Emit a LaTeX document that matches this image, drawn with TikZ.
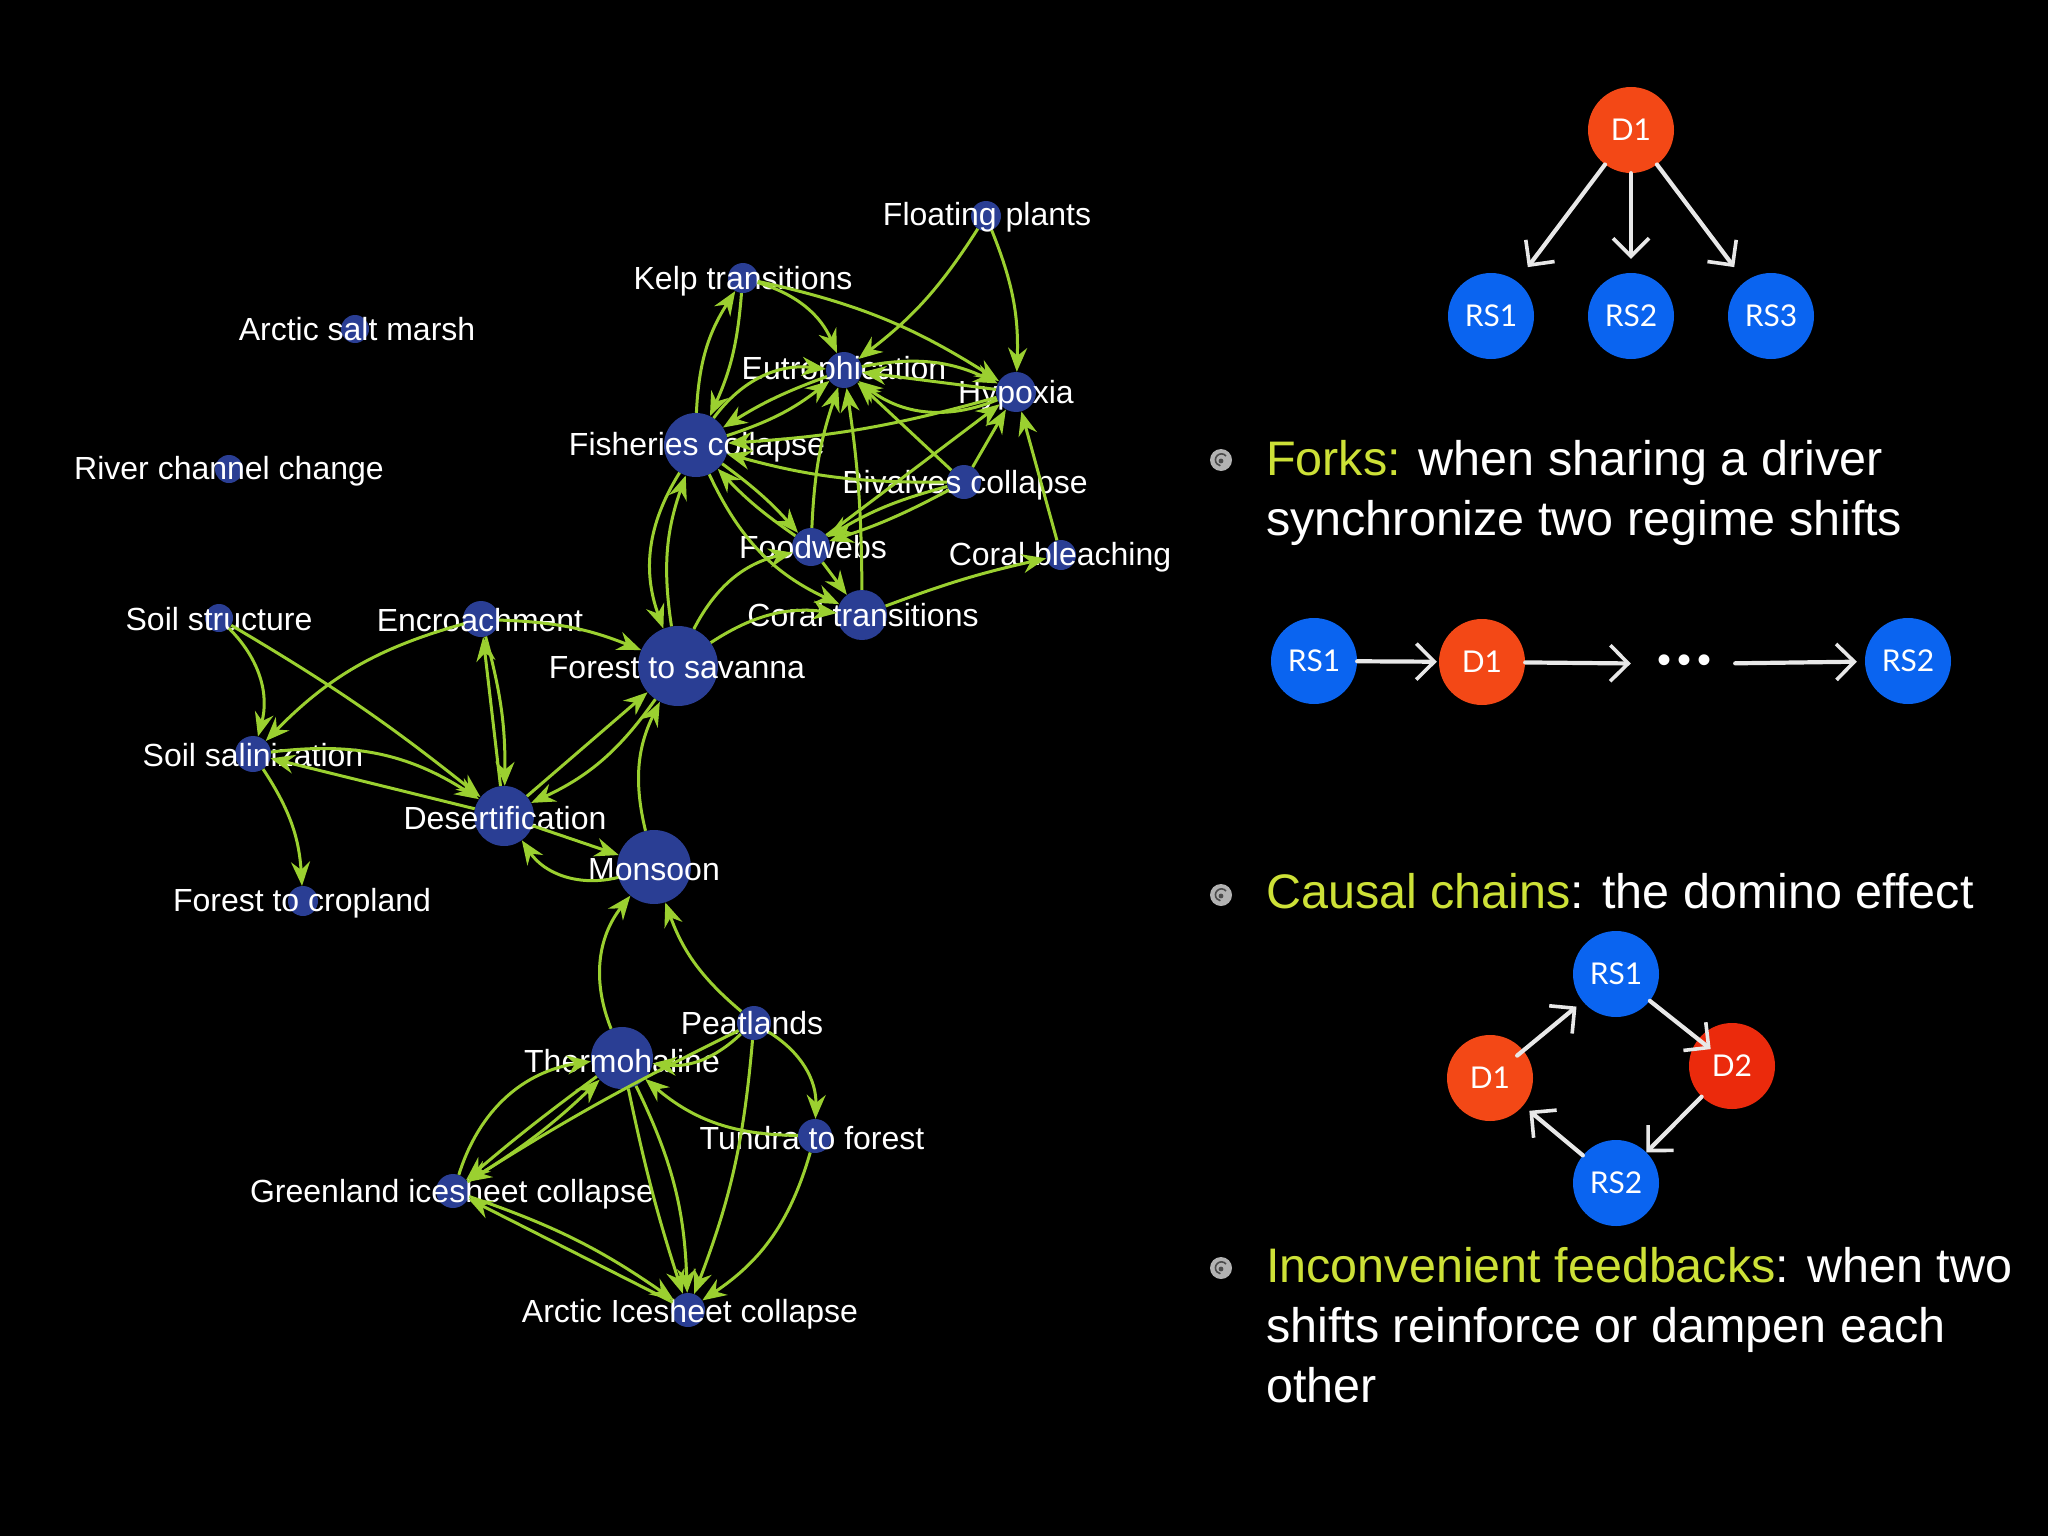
\documentclass[tikz,border=0pt]{standalone}
\usepackage{fontspec}
\setmainfont{Liberation Sans}
\newfontfamily\gillfont{Lato}
\usetikzlibrary{arrows.meta}
\definecolor{nodeblue}{RGB}{42,62,148}
\definecolor{linkgreen}{RGB}{155,208,48}
\definecolor{accent}{RGB}{205,225,55}
\definecolor{rsblue}{RGB}{10,100,240}
\definecolor{dred}{RGB}{243,72,22}
\definecolor{dredb}{RGB}{235,42,12}
\definecolor{chalk}{RGB}{232,232,232}
\begin{document}
\begin{tikzpicture}[x=1pt,y=1pt,
  nd/.style={circle,fill=nodeblue,inner sep=0pt,minimum size=#1},
  lbl/.style={text=white,inner sep=0pt,font=\fontsize{32}{36}\selectfont,anchor=base},
  lk/.style={draw=linkgreen,line width=3pt,-{Stealth[length=24pt,width=19pt,inset=8pt]}},
  rs/.style={circle,fill=rsblue,inner sep=0pt,minimum size=86pt,text=white,font=\gillfont\fontsize{30}{30}\selectfont},
  dr/.style={rs,fill=dred},
  sk/.style={draw=chalk,line width=4.2pt,line cap=round,-{Straight Barb[length=18pt,width=36pt,line width=3.6pt]}},
  big/.style={text=white,inner sep=0pt,anchor=base west,font=\fontsize{48.5}{60}\selectfont},
  bul/.style={fill=black!30!white},
]
\useasboundingbox (0,0) rectangle (2048,-1536);
\fill[black] (0,0) rectangle (2048,-1536);

% ---------------- network nodes ----------------
\node[nd=30pt] (fp)   at (986,-216) {};
\node[nd=30pt] (kelp) at (743,-278) {};
\node[nd=28pt] (asm)  at (355,-329) {};
\node[nd=36pt] (eut)  at (844,-370) {};
\node[nd=40pt] (hyp)  at (1016,-392) {};
\node[nd=64pt] (fis)  at (696,-445) {};
\node[nd=28pt] (rcc)  at (229,-469) {};
\node[nd=34pt] (biv)  at (964,-482) {};
\node[nd=38pt] (food) at (811,-547) {};
\node[nd=30pt] (cb)   at (1061,-555) {};
\node[nd=50pt] (ct)   at (862,-615) {};
\node[nd=28pt] (ss)   at (219,-618) {};
\node[nd=36pt] (enc)  at (481,-619) {};
\node[nd=80pt] (fts)  at (678,-666) {};
\node[nd=36pt] (sal)  at (253,-754) {};
\node[nd=60pt] (des)  at (504,-816) {};
\node[nd=74pt] (mon)  at (654,-867) {};
\node[nd=30pt] (ftc)  at (303,-901) {};
\node[nd=34pt] (pea)  at (754,-1023) {};
\node[nd=62pt] (th)   at (622,-1058) {};
\node[nd=34pt] (tun)  at (815,-1136) {};
\node[nd=34pt] (gre)  at (453,-1191) {};
\node[nd=34pt] (arc)  at (688,-1310) {};

% ---------------- labels ----------------
\node[lbl] (fp-l)   at (987,-225)  {Floating plants};
\node[lbl] (kelp-l) at (743,-289)  {Kelp transitions};
\node[lbl] (asm-l)  at (357,-340)  {Arctic salt marsh};
\node[lbl] (eut-l)  at (844,-379)  {Eutrophication};
\node[lbl] (hyp-l)  at (1016,-403) {Hypoxia};
\node[lbl] (fis-l)  at (697,-455)  {Fisheries collapse};
\node[lbl] (rcc-l)  at (229,-479)  {River channel change};
\node[lbl] (biv-l)  at (965,-493)  {Bivalves collapse};
\node[lbl] (food-l) at (813,-558)  {Foodwebs};
\node[lbl] (cb-l)   at (1060,-565) {Coral bleaching};
\node[lbl] (ct-l)   at (863,-626)  {Coral transitions};
\node[lbl] (ss-l)   at (219,-630)  {Soil structure};
\node[lbl] (enc-l)  at (480,-631)  {Encroachment};
\node[lbl] (fts-l)  at (677,-678)  {Forest to savanna};
\node[lbl] (sal-l)  at (253,-766)  {Soil salinization};
\node[lbl] (des-l)  at (505,-829)  {Desertification};
\node[lbl] (mon-l)  at (654,-880)  {Monsoon};
\node[lbl] (ftc-l)  at (302,-911)  {Forest to cropland};
\node[lbl] (pea-l)  at (752,-1034) {Peatlands};
\node[lbl] (th-l)   at (622,-1072) {Thermohaline};
\node[lbl] (tun-l)  at (812,-1149) {Tundra to forest};
\node[lbl] (gre-l)  at (452,-1202) {Greenland icesheet collapse};
\node[lbl] (arc-l)  at (690,-1322) {Arctic Icesheet collapse};

% ---------------- links: marine cluster ----------------
\draw[lk] (fp) to[bend left=10] (eut);
\draw[lk] (fp) to[bend left=12] (hyp);
\draw[lk] (fis) to[bend left=15] (kelp);
\draw[lk] (kelp) to[bend left=10] (fis);
\draw[lk] (kelp) to[bend left=25] (eut);
\draw[lk] (kelp) to[bend left=10] (hyp);
\draw[lk] (eut) to[bend left=18] (hyp);
\draw[lk] (hyp) to (eut);
\draw[lk] (hyp) to[bend left=30] (eut);
\draw[lk] (fis) to[bend left=30] (eut);
\draw[lk] (eut) to[bend right=6] (fis);
\draw[lk] (fis) to[bend right=10] (eut);
\draw[lk] (hyp) to[bend left=6] (fis);
\draw[lk] (biv) to[bend left=8] (fis);
\draw[lk] (fis) to[bend left=6] (food);
\draw[lk] (food) to[bend left=6] (fis);
\draw[lk] (fis) to[bend right=20] (ct);
\draw[lk] (fts) to[bend left=20] (ct);
\draw[lk] (fts) to[bend left=25] (food);
\draw[lk] (ct) to[bend left=4] (cb);
\draw[lk] (ct) to[bend right=4] (eut);
\draw[lk] (food) to (ct);
\draw[lk] (food) to[bend left=8] (eut);
\draw[lk] (food) to (hyp);
\draw[lk] (biv) to[bend left=5] (food);
\draw[lk] (biv) to[bend right=8] (food);
\draw[lk] (biv) to (eut);
\draw[lk] (biv) to (hyp);
\draw[lk] (cb) to (hyp);
\draw[lk] (fts) to[bend left=14] (fis);
\draw[lk] (fis) to[bend right=26] (fts);
\draw[lk] (enc) to[bend left=10] (fts);

% ---------------- links: land cluster ----------------
\draw[lk] (ss) to[bend left=30] (sal);
\draw[lk] (ss) to[bend left=4] (des);
\draw[lk] (enc) to[bend right=15] (sal);
\draw[lk] (sal) to[bend left=20] (des);
\draw[lk] (des) to (sal);
\draw[lk] (sal) to[bend left=15] (ftc);
\draw[lk] (des) to (enc);
\draw[lk] (enc) to[bend left=8] (des);
\draw[lk] (des) to (fts);
\draw[lk] (fts) to[bend left=15] (des);
\draw[lk] (des) to (mon);
\draw[lk] (mon) to[bend left=35] (des);
\draw[lk] (mon) to[bend left=20] (fts);

% ---------------- links: climate cluster ----------------
\draw[lk] (th) to[bend left=30] (mon);
\draw[lk] (pea) to[bend left=15] (mon);
\draw[lk] (pea) to[bend left=30] (tun);
\draw[lk] (pea) to[bend left=25] (th);
\draw[lk] (pea) to[bend right=3] (gre);
\draw[lk] (pea) to[bend left=8] (arc);
\draw[lk] (tun) to[bend left=20] (th);
\draw[lk] (tun) to[bend left=20] (arc);
\draw[lk] (gre) to[bend left=32] (th);
\draw[lk] (gre) to[bend right=6] (th);
\draw[lk] (th) to[bend right=2] (gre);
\draw[lk] (th) to[bend right=3] (arc);
\draw[lk] (th) to[bend left=12] (arc);
\draw[lk] (gre) to[bend left=8] (arc);
\draw[lk] (arc) to (gre);

% ---------------- fork diagram ----------------
\node[dr] (fD1) at (1631,-130) {D1};
\node[rs] (fR1) at (1491,-316) {RS1};
\node[rs] (fR2) at (1631,-316) {RS2};
\node[rs] (fR3) at (1771,-316) {RS3};
\draw[sk, shorten >=18pt] (fD1) -- (fR1);
\draw[sk, shorten >=14pt] (fD1) -- (fR2);
\draw[sk, shorten >=18pt] (fD1) -- (fR3);

% ---------------- chain diagram ----------------
\node[rs] (cR1) at (1314,-661) {RS1};
\node[dr] (cD1) at (1482,-662) {D1};
\node[text=white, inner sep=0pt, font=\fontsize{40}{40}\selectfont] (dots) at (1684,-664) {•\hspace{6pt}•\hspace{6pt}•};
\node[rs] (cR2) at (1908,-661) {RS2};
\draw[sk, shorten >=2pt] (cR1) -- (cD1);
\draw[sk, shorten >=26pt] (cD1) -- (dots);
\draw[sk, shorten <=24pt, shorten >=8pt] (dots) -- (cR2);

% ---------------- feedback diagram ----------------
\node[rs] (bR1) at (1616,-974) {RS1};
\node[dr] (bD1) at (1490,-1078) {D1};
\node[dr, fill=dredb] (bD2) at (1732,-1066) {D2};
\node[rs] (bR2) at (1616,-1183) {RS2};
\draw[sk, shorten <=-8pt, shorten >=8pt] (bD1) -- (bR1);
\draw[sk, shorten >=-16pt] (bR1) -- (bD2);
\draw[sk] (bD2) -- (bR2);
\draw[sk, shorten >=8pt] (bR2) -- (bD1);

% ---------------- bullets ----------------
\foreach \yy in {460,895,1268}{
  \fill[bul] (1221,-\yy) circle (11);
  \draw[black!70,line width=1.6pt] (1226,-\yy+4) arc[start angle=40,end angle=260,radius=6];
  \fill[black!70] (1221,-\yy-1) circle (2.4);
}

% ---------------- texts ----------------
\node[big] (t1a) at (1266,-475) {\textcolor{accent}{Forks:} when sharing a driver};
\node[big] (t1b) at (1266,-535) {synchronize two regime shifts};
\node[big] (t2)  at (1266,-908) {\textcolor{accent}{Causal chains}: the domino effect};
\node[big] (t3a) at (1266,-1282) {\textcolor{accent}{Inconvenient feedbacks}: when two};
\node[big] (t3b) at (1266,-1342) {shifts reinforce or dampen each};
\node[big] (t3c) at (1266,-1402) {other};
\end{tikzpicture}
\end{document}
